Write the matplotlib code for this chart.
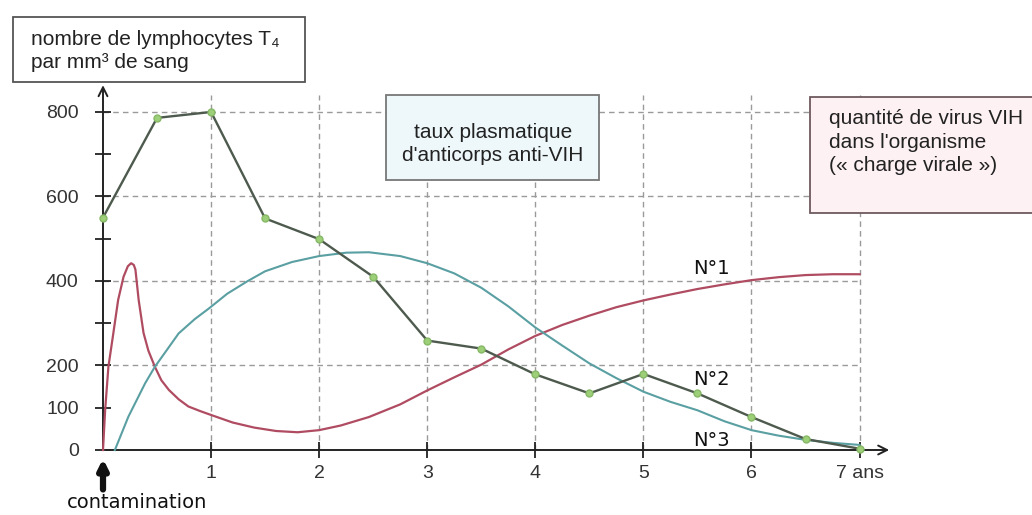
import matplotlib.pyplot as plt
from matplotlib.patches import Rectangle

# T4 lymphocytes (per mm3), measured every half year
t4_years = [0, 0.5, 1, 1.5, 2, 2.5, 3, 3.5, 4, 4.5, 5, 5.5, 6, 6.5, 7]
t4_counts = [550, 786, 800, 548, 499, 410, 259, 240, 179, 134, 180, 134, 78, 26, 3]

# viral load (same scale, arbitrary units)
virus_years = [0, 0.02, 0.05, 0.096, 0.14, 0.19, 0.23, 0.26, 0.285, 0.30, 0.33,
               0.375, 0.42, 0.48, 0.54, 0.61, 0.7, 0.79, 0.9, 1.01, 1.2, 1.4,
               1.6, 1.8, 2.0, 2.2, 2.46, 2.75, 3.0, 3.25, 3.5, 3.75, 4.0, 4.25,
               4.5, 4.75, 5.0, 5.25, 5.5, 5.75, 6.0, 6.25, 6.5, 6.75, 7.0]
virus_load = [0, 95, 197, 277, 355, 410, 435, 442, 438, 427, 355,
              277, 235, 197, 165, 142, 120, 103, 92, 82, 65, 53,
              45, 42, 47, 58, 78, 108, 141, 172, 202, 238, 270, 296,
              318, 338, 354, 368, 381, 392, 402, 409, 414, 416, 416]

# anti-HIV antibody level
ab_years = [0.11, 0.235, 0.39, 0.48, 0.6, 0.7, 0.85, 0.98, 1.15, 1.34, 1.5, 1.75,
            2.0, 2.25, 2.46, 2.75, 3.0, 3.25, 3.5, 3.75, 4.0, 4.25, 4.5, 4.75,
            5.0, 5.25, 5.5, 5.75, 6.0, 6.25, 6.5, 6.75, 7.0]
ab_level = [0, 79, 158, 197, 240, 276, 310, 335, 370, 400, 423, 445,
            459, 467, 468, 459, 442, 418, 384, 340, 290, 247, 205, 170,
            138, 114, 94, 68, 47, 34, 24, 17, 12]

x_ticks = [1, 2, 3, 4, 5, 6, 7]
x_labels = ['1', '2', '3', '4', '5', '6', '7 ans']
y_ticks = [0, 100, 200, 300, 400, 500, 600, 700, 800]
y_labels = ['0', '100', '200', '', '400', '', '600', '', '800']

W, H = 1032, 515
sans = ['Liberation Sans', 'DejaVu Sans']

fig = plt.figure(figsize=(W / 100, H / 100), dpi=100)
ax = fig.add_axes([103 / W, 65 / H, 789 / W, 350.7 / H])
ax.set_xlim(0, 7.3)
ax.set_ylim(0, 830)
for s in ax.spines.values():
    s.set_visible(False)

# dashed grid
grid_kw = dict(color='#9a9a9a', lw=1.0, ls=(0, (4, 3)), zorder=1, clip_on=False)
ax.hlines([200, 400], 0, 7, **grid_kw)
ax.hlines([600, 800], 0, 8.7, **grid_kw)
ax.vlines(x_ticks, 0, 840, **grid_kw)

# axes with open arrow heads
arrow_kw = dict(arrowstyle='->', lw=1.4, color='#222', mutation_scale=16)
ax.annotate('', xy=(7.3, 0), xytext=(0, 0), arrowprops=arrow_kw, annotation_clip=False)
ax.annotate('', xy=(0, 870), xytext=(0, 0), arrowprops=arrow_kw, annotation_clip=False)

ax.set_xticks(x_ticks)
ax.set_xticklabels(x_labels, family=sans, fontsize=14, color='#333')
ax.set_yticks(y_ticks)
ax.set_yticklabels(y_labels, family=sans, fontsize=14, color='#333')
ax.tick_params(direction='inout', length=11, width=1.3, color='#222')
ax.tick_params(axis='y', pad=12)
ax.tick_params(axis='x', pad=5)

ax.plot(virus_years, virus_load, color='#b04c62', lw=1.6, zorder=3, clip_on=False)
ax.plot(ab_years, ab_level, color='#5a9fa2', lw=1.5, zorder=3, clip_on=False)
ax.plot(t4_years, t4_counts, color='#4d5a4d', lw=1.7, zorder=4, clip_on=False,
        marker='o', markersize=5, markerfacecolor='#9ccf78', markeredgecolor='#86b866')

for lab, yv in [('N°1', 430), ('N°2', 168), ('N°3', 22)]:
    ax.text(5.63, yv, lab, ha='center', va='center', fontsize=14, color='#111',
            family='DejaVu Sans')

# contamination marker
ax.annotate('', xy=(0, -14), xytext=(0, -100),
            arrowprops=dict(arrowstyle='-|>', lw=4.5, color='#111', mutation_scale=14),
            annotation_clip=False)
fig.text(137 / W, 1 - 503 / H, 'contamination', ha='center', va='center',
         fontsize=14, color='#111', family='DejaVu Sans')


def box(x0, y0, x1, y1, fc, ec):
    fig.patches.append(Rectangle((x0 / W, 1 - y1 / H), (x1 - x0) / W, (y1 - y0) / H,
                                 transform=fig.transFigure, fc=fc, ec=ec, lw=1.3,
                                 zorder=5))


box(13, 17, 305, 82, 'white', '#555')
fig.text(31 / W, 1 - 51 / H, 'nombre de lymphocytes T₄\npar mm³ de sang', ha='left',
         va='center', fontsize=15, family=sans, color='#222', linespacing=1.25,
         zorder=6)

box(386, 95, 599, 180, '#eef8fa', '#777')
fig.text(493 / W, 1 - 144 / H, "taux plasmatique\nd'anticorps anti-VIH", ha='center',
         va='center', fontsize=15, family=sans, color='#222', linespacing=1.3,
         zorder=6)

box(810, 97, 1040, 213, '#fdf1f3', '#6e5a5e')
fig.text(829 / W, 1 - 142 / H, "quantité de virus VIH\ndans l'organisme\n(« charge virale »)",
         ha='left', va='center', fontsize=15, family=sans, color='#222',
         linespacing=1.3, zorder=6)

fig.savefig('out.png', dpi=100, facecolor='white')
